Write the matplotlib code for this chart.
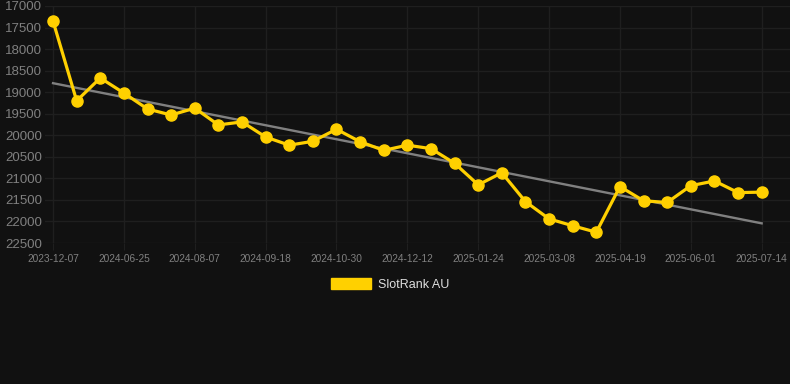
import numpy as np
import matplotlib
matplotlib.use("Agg")
import matplotlib.pyplot as plt
from matplotlib.patches import Patch

# rank values, one per sample (lower number = better rank, axis is inverted)
ranks = [17350, 19200, 18670, 19020, 19390, 19530, 19370, 19760, 19690, 20040,
         20230, 20140, 19860, 20150, 20350, 20230, 20310, 20650, 21150, 20870,
         21540, 21940, 22100, 22250, 21190, 21520, 21560, 21170, 21060, 21330,
         21320]
date_labels = ["2023-12-07", "2024-06-25", "2024-08-07", "2024-09-18", "2024-10-30",
               "2024-12-12", "2025-01-24", "2025-03-08", "2025-04-19", "2025-06-01",
               "2025-07-14"]
label_every = 3
y_ticks = list(range(17000, 22501, 500))
series_name = "SlotRank AU"

bg = "#111111"
grid_col = "#1f1f1f"
tick_col = "#808080"
yellow = "#ffd000"

plt.rcParams['font.family'] = ['Liberation Sans', 'DejaVu Sans']

dpi = 100
fig = plt.figure(figsize=(790 / dpi, 384 / dpi), dpi=dpi, facecolor=bg)
ax = fig.add_axes([45 / 790, 1 - 243 / 384, 1 - 45 / 790, (243 - 6) / 384])
ax.set_facecolor(bg)

x = np.arange(len(ranks))
# straight trend line fitted through the rank series
coef = np.polyfit(x, ranks, 1)
ax.plot(x, np.polyval(coef, x), color="#808080", linewidth=1.7, zorder=2)
ax.plot(x, ranks, color=yellow, linewidth=2.3, marker="o", markersize=8,
        markerfacecolor=yellow, markeredgecolor=yellow, zorder=3)

ax.set_ylim(22500, 17000)
ax.set_xlim(-0.34, len(ranks) - 1 + 1.2)
ax.set_yticks(y_ticks)
ax.set_yticklabels([str(v) for v in y_ticks])
ax.set_xticks(x[::label_every])
ax.set_xticklabels(date_labels)

ax.grid(True, color=grid_col, linewidth=1)
ax.set_axisbelow(True)
for s in ax.spines.values():
    s.set_visible(False)
ax.tick_params(axis="y", length=0, pad=2, labelsize=9.5, labelcolor=tick_col)
ax.tick_params(axis="x", length=5, color=grid_col, pad=3, labelsize=7.3, labelcolor=tick_col)

handle = Patch(facecolor=yellow, edgecolor=yellow)
fig.legend([handle], [series_name], loc="center", bbox_to_anchor=(0.494, 0.26),
           frameon=False, fontsize=9, labelcolor="#dddddd",
           handlelength=3.2, handleheight=1.0, handletextpad=0.6)

fig.savefig("out.png", dpi=dpi, facecolor=bg)
